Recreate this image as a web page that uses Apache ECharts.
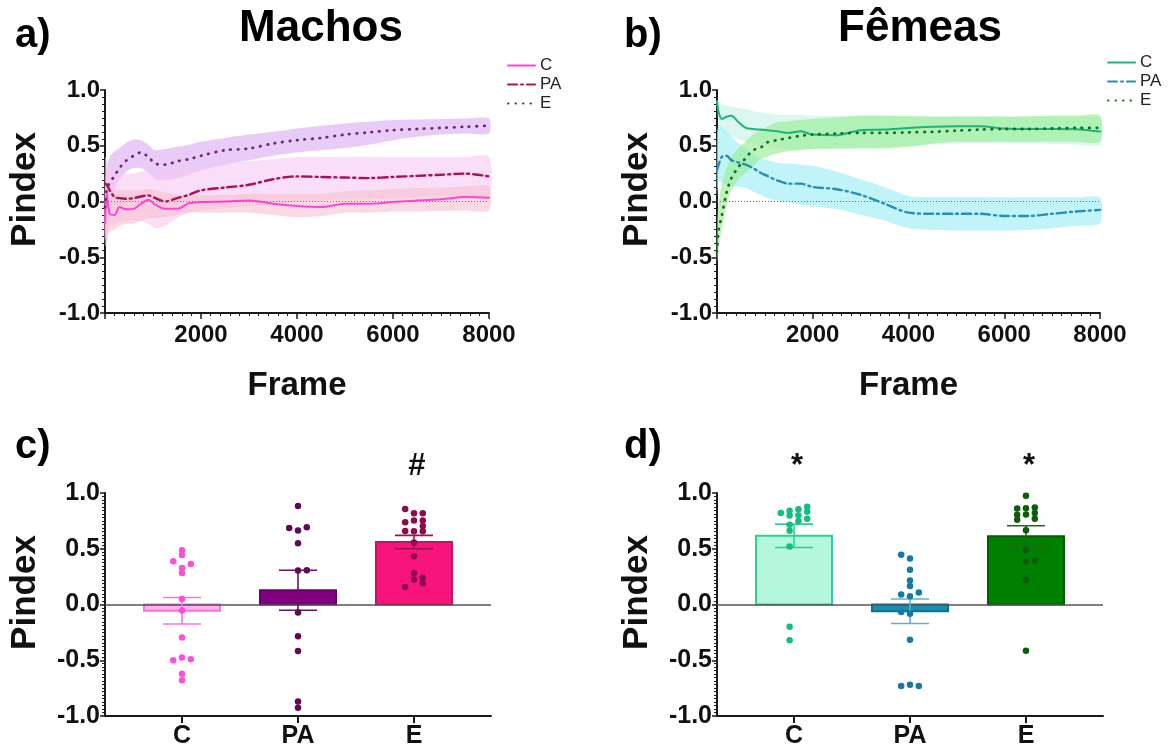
<!DOCTYPE html>
<html>
<head>
<meta charset="utf-8">
<script src="https://cdn.jsdelivr.net/npm/echarts@6/dist/echarts.min.js"></script>
<style>html,body{margin:0;padding:0;background:#fff}#chart{width:1173px;height:749px}</style>
</head>
<body>
<div id="chart"></div>
<script>
// ---------- data ----------
const frames = [0,35,100,200,300,450,600,750,900,1050,1250,1500,1750,2000,2500,3000,3500,4000,4500,5000,5500,6000,6500,7000,7500,8000];
const xTicks = [2000,4000,6000,8000];
const yTicks = [-1.0,-0.5,0.0,0.5,1.0];

// Panel a (Machos)
const aC_mean = [-0.2,0.07,-0.11,-0.12,-0.05,-0.07,-0.066,-0.02,0.015,-0.03,-0.066,-0.066,-0.015,-0.005,0.0,0.01,-0.02,-0.04,-0.05,-0.02,-0.02,-0.005,0.01,0.02,0.04,0.033];
const aC_hi   = [0.1,0.15,0.1,0.1,0.1,0.1,0.1,0.1,0.115,0.1,0.08,0.06,0.055,0.055,0.06,0.07,0.07,0.07,0.07,0.09,0.1,0.11,0.12,0.125,0.135,0.135];
const aC_lo   = [-0.35,-0.3,-0.27,-0.25,-0.22,-0.2,-0.2,-0.17,-0.15,-0.15,-0.14,-0.12,-0.1,-0.1,-0.1,-0.1,-0.12,-0.14,-0.13,-0.1,-0.1,-0.09,-0.09,-0.085,-0.08,-0.08];
const aPA_mean = [0.16,0.15,0.1,0.04,0.03,0.025,0.03,0.045,0.055,0.03,0.0,0.03,0.06,0.1,0.125,0.15,0.2,0.225,0.22,0.215,0.21,0.22,0.23,0.24,0.25,0.225];
const aPA_hi   = [0.4,0.38,0.3,0.25,0.25,0.25,0.25,0.27,0.28,0.26,0.27,0.28,0.3,0.3,0.34,0.36,0.38,0.4,0.4,0.4,0.4,0.4,0.4,0.4,0.4,0.4];
const aPA_lo   = [-0.35,-0.25,-0.22,-0.2,-0.18,-0.17,-0.17,-0.18,-0.2,-0.24,-0.22,-0.15,-0.1,-0.08,-0.06,-0.04,-0.02,0.0,0.01,0.02,0.02,0.03,0.04,0.05,0.05,0.05];
const aE_mean = [-0.05,0.1,0.17,0.23,0.3,0.37,0.41,0.44,0.4,0.34,0.33,0.36,0.38,0.41,0.46,0.475,0.52,0.55,0.57,0.6,0.62,0.64,0.65,0.66,0.67,0.68];
const aE_hi   = [0.15,0.3,0.4,0.45,0.48,0.53,0.555,0.55,0.51,0.46,0.47,0.49,0.51,0.535,0.57,0.6,0.625,0.655,0.68,0.7,0.715,0.73,0.735,0.74,0.745,0.745];
const aE_lo   = [-0.4,-0.38,-0.1,0.1,0.2,0.27,0.3,0.3,0.26,0.2,0.19,0.21,0.24,0.28,0.33,0.37,0.41,0.44,0.46,0.48,0.51,0.55,0.58,0.6,0.61,0.61];

// Panel b (Fêmeas)
const bC_mean = [0.9,0.8,0.74,0.76,0.77,0.71,0.66,0.65,0.645,0.64,0.63,0.615,0.63,0.6,0.595,0.64,0.645,0.66,0.67,0.675,0.675,0.655,0.65,0.65,0.648,0.627];
const bC_hi   = [0.9,0.89,0.87,0.86,0.85,0.84,0.83,0.81,0.8,0.79,0.78,0.78,0.775,0.77,0.77,0.77,0.77,0.77,0.77,0.77,0.77,0.765,0.76,0.76,0.755,0.75];
const bC_lo   = [0.85,0.7,0.62,0.6,0.58,0.56,0.54,0.52,0.5,0.49,0.48,0.47,0.47,0.47,0.47,0.48,0.49,0.5,0.51,0.52,0.52,0.52,0.52,0.515,0.51,0.51];
const bPA_mean = [0.28,0.33,0.4,0.41,0.37,0.35,0.33,0.3,0.26,0.23,0.19,0.16,0.16,0.13,0.11,0.06,-0.02,-0.1,-0.11,-0.11,-0.11,-0.13,-0.13,-0.11,-0.09,-0.075];
const bPA_hi   = [0.6,0.69,0.67,0.63,0.58,0.52,0.48,0.43,0.39,0.37,0.35,0.34,0.33,0.32,0.27,0.2,0.13,0.05,0.04,0.04,0.04,0.035,0.035,0.035,0.035,0.035];
const bPA_lo   = [0.05,0.18,0.17,0.15,0.14,0.13,0.12,0.09,0.06,0.03,0.01,-0.01,-0.03,-0.045,-0.07,-0.12,-0.17,-0.24,-0.255,-0.26,-0.26,-0.26,-0.255,-0.24,-0.22,-0.195];
const bE_mean = [-0.45,-0.25,-0.13,0.08,0.21,0.31,0.39,0.46,0.48,0.53,0.55,0.57,0.59,0.6,0.61,0.615,0.615,0.62,0.625,0.635,0.645,0.65,0.65,0.655,0.66,0.66];
const bE_hi   = [-0.2,0.0,0.15,0.3,0.4,0.48,0.54,0.6,0.64,0.67,0.71,0.72,0.73,0.74,0.755,0.77,0.77,0.765,0.76,0.76,0.76,0.76,0.765,0.77,0.77,0.77];
const bE_lo   = [-0.55,-0.42,-0.25,-0.04,0.1,0.2,0.26,0.32,0.38,0.4,0.43,0.45,0.46,0.47,0.475,0.475,0.475,0.49,0.52,0.535,0.535,0.535,0.535,0.535,0.535,0.535];

// Panels c and d (bars: mean ± SEM, individual points)
const barCats = ['C','PA','E'];
const cMeans = [-0.056, 0.128, 0.56];
const cSEM   = [0.119, 0.179, 0.06];
const cAnnot = ['', '', '#'];
const cDotsC  = [0.487,0.445,0.388,0.364,0.328,0.283,0.05,-0.054,-0.296,-0.5,-0.476,-0.49,-0.62,-0.679];
const cDotsPA = [0.884,0.687,0.663,0.693,0.55,0.305,0.307,-0.072,-0.284,-0.416,-0.87,-0.927];
const cDotsE  = [0.857,0.819,0.819,0.738,0.753,0.753,0.705,0.66,0.657,0.657,0.556,0.433,0.283,0.224,0.239,0.191,0.158];
const dMeans = [0.616, -0.06, 0.612];
const dSEM   = [0.105, 0.11, 0.094];
const dAnnot = ['*', '', '*'];
const dDotsC  = [0.82,0.84,0.798,0.855,0.80,0.876,0.831,0.748,0.768,0.715,0.661,0.52,-0.2,-0.32];
const dDotsPA = [0.446,0.413,0.311,0.215,0.165,0.09,0.108,0.075,-0.068,-0.083,-0.317,-0.732,-0.72,-0.732];
const dDotsE  = [0.975,0.861,0.864,0.87,0.804,0.807,0.82,0.76,0.768,0.667,0.488,0.383,0.392,0.219,-0.415];

// swarm column of each point (layout of the dot plot)
const cColC  = [0,0,-1,1,0,0,0,0,0,-1,0,1,0,0];
const cColPA = [0,-1,0,1,0,0,1,0,0,0,0,0];
const cColE  = [-1,0,1,-1,0,1,1,-1,0,1,0,0,0,0,1,1,-1];
const dColC  = [-1.5,-0.5,-0.5,0.5,0.5,1.5,1.5,0.5,1.5,-0.5,-0.5,-0.5,-0.5,-0.5];
const dColPA = [-1,0,0,0,0,-1,1,0,-1,0,0,-1,0,1];
const dColE  = [0,-1,0,1,-1,0,1,-1,1,0,0,0,1,0,0];

// ---------- styling / building ----------
const FONT = '"Liberation Sans", Arial, Helvetica, sans-serif';
const AX = '#1a1a1a';
const COLSTEP = 8.8;

const chart = echarts.init(document.getElementById('chart'), null, {renderer:'canvas'});

function bandSeries(g, lo, hi, color, opacity) {
  return {
    type:'custom', xAxisIndex:g, yAxisIndex:g, silent:true, z:1,
    data:[[frames[0], lo[0]]],
    renderItem:(p, api) => {
      const pts = [];
      for (let i = 0; i < frames.length; i++) pts.push(api.coord([frames[i], hi[i]]));
      for (let i = frames.length - 1; i >= 0; i--) pts.push(api.coord([frames[i], lo[i]]));
      return {type:'polygon', shape:{points:pts, smooth:0.25}, style:{fill:color, opacity:opacity}};
    }
  };
}
function lineSeries(g, name, ys, color, type, width, extra) {
  return Object.assign({
    type:'line', name:name, xAxisIndex:g, yAxisIndex:g, z:3,
    data: frames.map((f,i)=>[f, ys[i]]), symbol:'none', smooth:0.3,
    lineStyle:{color:color, width:width, type:type, cap:'round'}, itemStyle:{color:color}
  }, extra || {});
}
const zeroDotted = {silent:true, symbol:'none', label:{show:false},
  lineStyle:{color:'#777', width:1, type:[1,2]}, data:[{yAxis:0}]};
const zeroSolid = {silent:true, symbol:'none', label:{show:false},
  lineStyle:{color:'#555', width:1.6, type:'solid'}, data:[{yAxis:0}]};

function barSeries(g, means, fills, strokes) {
  return {
    type:'custom', xAxisIndex:g, yAxisIndex:g, z:2, silent:true,
    data: means.map((m,i)=>[i, m]),
    renderItem:(p, api) => {
      const i = api.value(0), m = api.value(1);
      const a = api.coord([i, 0]), b = api.coord([i, m]);
      const w = 76;
      return {type:'rect', shape:{x:a[0]-w/2, y:Math.min(a[1],b[1]), width:w, height:Math.abs(b[1]-a[1])},
        style:{fill:fills[i], stroke:strokes[i], lineWidth:2}};
    }
  };
}
function errSeries(g, means, sems, annot, colors) {
  return {
    type:'custom', xAxisIndex:g, yAxisIndex:g, z:6, silent:true,
    data: means.map((m,i)=>[i, m, sems[i]]),
    renderItem:(p, api) => {
      const i = api.value(0), m = api.value(1), s = api.value(2);
      const t = api.coord([i, m + s]), b = api.coord([i, m - s]);
      const cw = 19;
      const st = {stroke:colors[i], lineWidth:1.6};
      const ch = [
        {type:'line', shape:{x1:t[0], y1:t[1], x2:b[0], y2:b[1]}, style:st},
        {type:'line', shape:{x1:t[0]-cw, y1:t[1], x2:t[0]+cw, y2:t[1]}, style:st},
        {type:'line', shape:{x1:b[0]-cw, y1:b[1], x2:b[0]+cw, y2:b[1]}, style:st}
      ];
      if (annot[i]) {
        const top = api.coord([i, 1.0]);
        ch.push({type:'text', x:top[0]+3, y:top[1]-27,
          style:{text:annot[i], font:'bold 31px ' + FONT, fill:'#111', align:'center', verticalAlign:'middle'}});
      }
      return {type:'group', children:ch};
    }
  };
}
function dotSeries(g, lists, cols, colors, withZero) {
  const data = [];
  lists.forEach((vals, i) => vals.forEach((v, k) => data.push({
    value:[i, v], symbolOffset:[cols[i][k]*COLSTEP, 0], itemStyle:{color:colors[i], opacity:1}
  })));
  const s = {type:'scatter', xAxisIndex:g, yAxisIndex:g, z:7, silent:true,
    symbol:'circle', symbolSize:6.5, itemStyle:{opacity:1}, data:data};
  if (withZero) s.markLine = zeroSolid;
  return s;
}

function frameX(g) {
  return {type:'value', gridIndex:g, min:0, max:8000, interval:2000,
    axisLine:{show:true, onZero:false, lineStyle:{color:AX, width:2}},
    axisTick:{show:true, length:6, lineStyle:{color:AX, width:1.5}},
    minorTick:{show:true, splitNumber:10, length:3, lineStyle:{color:AX, width:1}},
    splitLine:{show:false}, minorSplitLine:{show:false},
    axisLabel:{formatter:v => xTicks.indexOf(v) >= 0 ? String(v) : '', fontSize:24, fontWeight:'bold', color:'#111', fontFamily:FONT, margin:10},
    name:'Frame', nameLocation:'middle', nameGap:56,
    nameTextStyle:{fontSize:33, fontWeight:'bold', color:'#111', fontFamily:FONT}};
}
function catX(g) {
  return {type:'value', gridIndex:g, min:-0.664, max:2.664,
    axisLine:{show:true, onZero:false, lineStyle:{color:AX, width:2}},
    axisTick:{show:true, length:7, customValues:[0,1,2], lineStyle:{color:AX, width:2}},
    splitLine:{show:false},
    axisLabel:{customValues:[0,1,2], formatter:v => barCats[Math.round(v)] || '', fontSize:25, fontWeight:'bold', color:'#111', fontFamily:FONT, margin:8}};
}
function pY(g, fs, minorN) {
  return {type:'value', gridIndex:g, min:-1, max:1, interval:0.5,
    axisLine:{show:true, onZero:false, lineStyle:{color:AX, width:2}},
    axisTick:{show:true, length:5, lineStyle:{color:AX, width:1.5}},
    minorTick:{show:true, splitNumber:minorN, length:3, lineStyle:{color:AX, width:1}},
    splitLine:{show:false}, minorSplitLine:{show:false},
    axisLabel:{formatter:v => yTicks.some(t => Math.abs(t - v) < 1e-9) ? v.toFixed(1) : '', fontSize:fs, fontWeight:'bold', color:'#111', fontFamily:FONT, margin:5},
    name:'Pindex', nameLocation:'middle', nameGap:62,
    nameTextStyle:{fontSize:35, fontWeight:'bold', color:'#111', fontFamily:FONT, padding:[0,0,0,24]}};
}
function label(text, x, y, size, align) {
  return {type:'text', x:x, y:y, style:{text:text, font:'bold ' + size + 'px ' + FONT, fill:'#000', align:align || 'left', verticalAlign:'middle'}};
}

const legendBase = {orient:'vertical', itemWidth:27, itemHeight:12, itemGap:2,
  formatter:n => n.split(':')[1], itemStyle:{opacity:0},
  textStyle:{fontSize:17, color:'#222', fontFamily:FONT}};

const option = {
  animation:false,
  backgroundColor:'#fff',
  grid:[
    {left:105, top:90, width:384, height:223},
    {left:717, top:90, width:383, height:223},
    {left:105, top:493, width:386, height:223},
    {left:717, top:493, width:386, height:223}
  ],
  xAxis:[frameX(0), frameX(1), catX(2), catX(3)],
  yAxis:[pY(0,24,8), pY(1,24,8), pY(2,25,16), pY(3,25,16)],
  legend:[
    Object.assign({}, legendBase, {left:502, top:52, data:['a:C','a:PA','a:E']}),
    Object.assign({}, legendBase, {left:1102, top:49, data:['b:C','b:PA','b:E']})
  ],
  graphic:[
    label('a)', 15, 36, 40), label('Machos', 321, 29, 44, 'center'),
    label('b)', 624, 36, 40), label('Fêmeas', 920, 29, 44, 'center'),
    label('c)', 15, 447, 40), label('d)', 624, 447, 40)
  ],
  series:[
    // panel a
    bandSeries(0, aE_lo, aE_hi, '#dcb0f2', 0.65),
    bandSeries(0, aPA_lo, aPA_hi, '#f6c6f2', 0.6),
    bandSeries(0, aC_lo, aC_hi, '#f9c0cf', 0.6),
    lineSeries(0, 'a:C', aC_mean, '#ff45d6', 'solid', 2, {markLine:zeroDotted}),
    lineSeries(0, 'a:PA', aPA_mean, '#a8125a', [9,4,2,4], 2.4),
    lineSeries(0, 'a:E', aE_mean, '#6e2a70', [0.5,7], 2.8),
    // panel b
    bandSeries(1, bC_lo, bC_hi, '#cdf3ea', 0.7),
    bandSeries(1, bPA_lo, bPA_hi, '#a6f0f6', 0.7),
    bandSeries(1, bE_lo, bE_hi, '#92ec8e', 0.6),
    lineSeries(1, 'b:C', bC_mean, '#1cb37c', 'solid', 2, {markLine:zeroDotted}),
    lineSeries(1, 'b:PA', bPA_mean, '#2a8db5', [9,4,2,4], 2.4),
    lineSeries(1, 'b:E', bE_mean, '#1e6b1e', [0.5,7], 2.8),
    // panel c
    barSeries(2, cMeans, ['#ffb3ee','#800080','#f7157d'], ['#ff6fdc','#6a006a','#c8106a']),
    errSeries(2, cMeans, cSEM, cAnnot, ['#ff6fdc','#6a1060','#a00f50']),
    dotSeries(2, [cDotsC, cDotsPA, cDotsE], [cColC, cColPA, cColE], ['#ff4fd8','#5e0a52','#8e0a4c'], true),
    // panel d
    barSeries(3, dMeans, ['#b5f6df','#1690b2','#008000'], ['#2fcf8f','#0f7090','#005e00']),
    errSeries(3, dMeans, dSEM, dAnnot, ['#2fcf8f','#5fb0c8','#1a6a1a']),
    dotSeries(3, [dDotsC, dDotsPA, dDotsE], [dColC, dColPA, dColE], ['#12bf7e','#1679a3','#0b5c0b'], true)
  ]
};
chart.setOption(option);
</script>
</body>
</html>
